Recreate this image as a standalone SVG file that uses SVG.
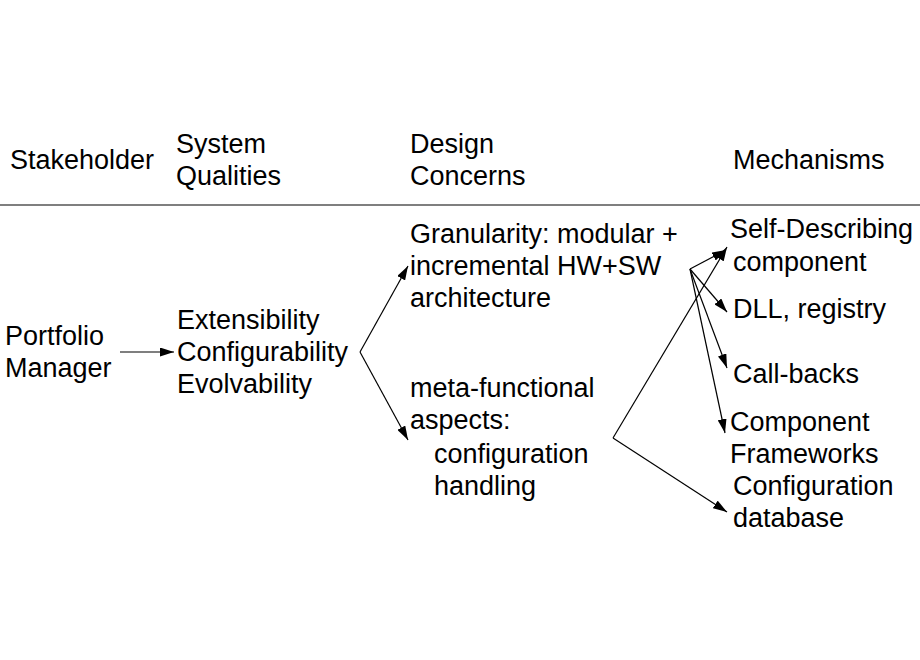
<svg xmlns="http://www.w3.org/2000/svg" width="920" height="660" viewBox="0 0 920 660">
<style>
text{font-family:"Liberation Sans",Arial,sans-serif;font-size:27px;fill:#000}
.c line{stroke:#000;stroke-width:1.2;marker-end:url(#ah)}
</style>
<defs>
<marker id="ah" viewBox="0 0 14 9" refX="14" refY="4.5" markerWidth="14" markerHeight="9" markerUnits="userSpaceOnUse" orient="auto">
<path d="M0,0 L14,4.5 L0,9 z" fill="#000"/>
</marker>
</defs>
<rect width="920" height="660" fill="#fff"/>
<g id="headers">
<text x="10" y="169">Stakeholder</text>
<text x="176" y="153">System</text>
<text x="176" y="185">Qualities</text>
<text x="410" y="153">Design</text>
<text x="410" y="185">Concerns</text>
<text x="733" y="169">Mechanisms</text>
<line x1="0" y1="205" x2="920" y2="205" stroke="#000" stroke-width="1.2"/>
</g>
<g id="stakeholder"><text x="5" y="345">Portfolio</text><text x="5" y="377">Manager</text></g>
<g id="qualities"><text x="177" y="329">Extensibility</text><text x="177" y="361">Configurability</text><text x="177" y="393">Evolvability</text></g>
<g id="granularity"><text x="410" y="243">Granularity: modular +</text><text x="410" y="275">incremental HW+SW</text><text x="410" y="307">architecture</text></g>
<g id="metafunctional"><text x="410" y="397">meta-functional</text><text x="410" y="429">aspects:</text><text x="434" y="463">configuration</text><text x="434" y="495">handling</text></g>
<g id="selfdescribing"><text x="730" y="238">Self-Describing</text><text x="733" y="271">component</text></g>
<g id="dll"><text x="733" y="318">DLL, registry</text></g>
<g id="callbacks"><text x="733" y="383">Call-backs</text></g>
<g id="frameworks"><text x="730" y="431">Component</text><text x="730" y="463">Frameworks</text></g>
<g id="configdb"><text x="733" y="495">Configuration</text><text x="733" y="527">database</text></g>
<g id="connectors" class="c">
<line x1="120" y1="352" x2="174" y2="352"/>
<line x1="360" y1="352" x2="408" y2="266"/>
<line x1="360" y1="352" x2="408" y2="440"/>
<line x1="690" y1="269" x2="726" y2="250"/>
<line x1="690" y1="269" x2="727" y2="312"/>
<line x1="690" y1="269" x2="727" y2="368"/>
<line x1="690" y1="269" x2="725" y2="433"/>
<line x1="613" y1="438" x2="727" y2="247"/>
<line x1="613" y1="438" x2="727" y2="512"/>
</g>
</svg>
